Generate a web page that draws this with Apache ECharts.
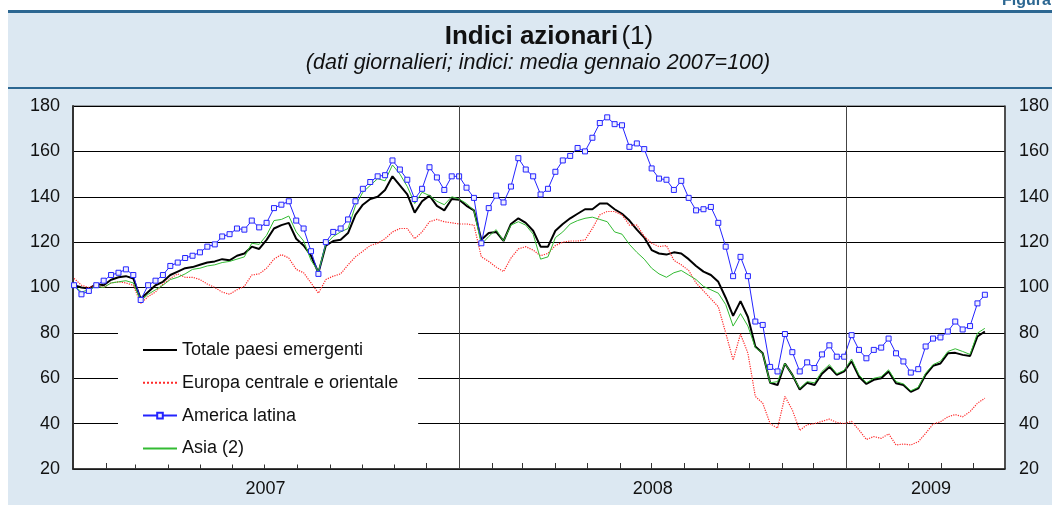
<!DOCTYPE html>
<html>
<head>
<meta charset="utf-8">
<script src="https://cdn.jsdelivr.net/npm/echarts@6/dist/echarts.min.js"></script>
<style>
  html, body { margin: 0; padding: 0; background: #fff; }
  #chart { width: 1052px; height: 505px; }
</style>
</head>
<body>
<div id="chart"></div>
<script>
const FONT = '"Liberation Sans", Arial, Helvetica, sans-serif';

// x axis in days since 1 Jan 2007; weekly observations from 2 Jan 2007
const ORIGIN = Date.UTC(2007, 0, 1);
const DAY = 24 * 3600 * 1000;
const dayOf = t => Math.round((t - ORIGIN) / DAY);

const totale = [
  101, 100, 99.5, 101.5, 101, 103.4, 104.5, 105, 104, 95,
  98, 101, 102.5, 105.5, 107, 108.5, 109, 110, 111, 111.5,
  112.5, 112, 114, 115, 118, 117, 121, 126, 127.5, 128.5,
  121.5, 118.5, 114, 106.5, 118.5, 120.5, 121, 124, 132, 136.5,
  139, 140, 143, 149, 145, 141, 133, 138, 140.5, 136,
  134, 139, 138.7, 136, 134, 121, 124, 124.5, 120.5, 128,
  130.5, 128.5, 125, 118, 118, 125, 128, 130.5, 132.5, 134.5,
  134.5, 137, 137, 134.5, 132.5, 129.5, 125.5, 122, 116.5, 115,
  114.5, 115.5, 115, 112.5, 109.5, 107, 105.5, 102.5, 95.5, 87.5,
  94, 87, 74, 71, 58, 57, 66.5, 61.5, 55, 58,
  57, 62, 65, 61.5, 63, 67.5, 60.7, 57.5, 59.3, 60,
  63, 57.8, 57, 54, 55.5, 61.5, 65.5, 66.5, 71, 71.2,
  70.3, 69.8, 78.4, 80.6
];

const europa = [
  104, 101, 100, 101, 100, 102, 102.5, 102, 101, 93,
  96, 98, 101.5, 104, 106, 104.5, 104.5, 103.5, 101.5, 100,
  98, 97, 99, 100.5, 105.5, 106, 108.5, 112.5, 114.5, 113,
  108, 106.5, 102, 97.5, 103.5, 105, 106, 110, 113.5, 116,
  118.5, 119.5, 121.5, 124.5, 126, 126, 121.5, 124.5, 129, 130,
  129, 128.5, 128, 128, 127.5, 113.5, 111.5, 109, 107, 113,
  117, 118, 116.5, 114, 115, 118.5, 120, 120.5, 120.5, 121,
  126, 132, 133.5, 133.5, 132, 127.5, 127.5, 122.5, 119.5, 118,
  118.5, 112, 110, 107.5, 102, 98.5, 95, 91.5, 80, 68,
  79.5, 71, 52, 49, 40, 38, 52, 46, 37, 39.5,
  40, 41, 42, 40.5, 40, 41, 37.2, 33, 34.3, 33.5,
  35.5, 30.6, 31, 30.6, 32, 35.7, 39.8, 40.8, 43, 44,
  43, 45.3, 49, 51.2
];

const americaLatina = [
  101, 97, 98.5, 101, 103, 105.5, 106.5, 108, 105.5, 94.5,
  101, 103, 105.5, 109.5, 111, 113, 114, 115.5, 118, 119,
  122.5, 123.5, 126, 125.5, 129.5, 126.5, 128.5, 135, 136.5, 138,
  129.5, 126, 116, 106, 120, 124.5, 126, 130, 138, 143.5,
  146.5, 149, 149.5, 156, 152, 147.5, 139, 143.5, 153, 148.5,
  143, 149, 149, 144, 139.5, 119.5, 135, 140.5, 137.5, 144.5,
  157, 152, 149, 141, 143.5, 151, 156, 158, 161.5, 160,
  166, 172.5, 175, 172, 171.5, 162, 163.5, 161, 152.5, 148,
  147.5, 143, 147, 139.5, 134, 134.5, 135.5, 128.5, 118, 105,
  113.5, 105, 85, 83.5, 65, 63, 79.5, 71.5, 63, 67,
  64.5, 70.5, 74.5, 69.5, 69.5, 79, 72.5, 68.8, 72.5, 73.5,
  77.5, 71, 67.4, 62.5, 64, 74, 77.5, 78, 80.6, 85,
  81.5, 83, 93, 96.8
];

const asia = [
  101, 98, 99, 100.5, 100, 102, 102.5, 103, 102, 94,
  97, 99, 101, 103.5, 104.5, 106, 108, 108.5, 109.5, 110,
  111, 111.5, 112.5, 113.5, 119.5, 119, 123, 129.5, 130, 131.5,
  124.5, 120.5, 112, 107, 119, 122.5, 124.5, 126, 136, 142,
  145, 148, 147, 154, 150, 144.5, 137, 142, 140.5, 138,
  136.5, 140, 139, 137, 134, 119, 122.5, 125.5, 120.5, 127.5,
  129, 127.5, 123.5, 112.5, 113.5, 122, 124.5, 128, 129.5, 130.5,
  131, 130, 129, 124.5, 123.5, 119, 115.5, 112.5, 108.5, 106,
  104.5, 106.5, 107.5, 105.5, 103.5, 100.5, 99, 97.5, 92.5, 83,
  88.5, 83, 73.5, 71, 58, 58.5, 66.5, 61.5, 55.5, 58.5,
  58, 63, 66, 62, 63.5, 68.5, 61.5, 58, 60, 60.7,
  63.7, 58.5, 57.5, 54.5, 56, 62.2, 66, 67.5, 71.8, 73,
  71.8, 70.5, 79.9, 82
];

const seriesNames = ['Totale paesi emergenti', 'Europa centrale e orientale', 'America latina', 'Asia (2)'];
const yearLabels = ['2007', '2008', '2009'];

const days = totale.map((v, i) => 1 + i * 7);
const pairs = arr => arr.map((v, i) => [days[i], v]);

// month ticks Feb 2007 .. May 2009
const monthTicks = [];
for (let m = 1; m < 29; m++) {
  monthTicks.push(dayOf(Date.UTC(2007, m, 1)));
}
const labelPos = [dayOf(Date.UTC(2007, 6, 2)), dayOf(Date.UTC(2008, 6, 2)), dayOf(Date.UTC(2009, 2, 22))];
const yearStarts = [dayOf(Date.UTC(2008, 0, 1)), dayOf(Date.UTC(2009, 0, 1))];

const chart = echarts.init(document.getElementById('chart'));

// lines without markers get an invisible marker in the legend
const noMark = { opacity: 0 };

const option = {
  animation: false,
  backgroundColor: '#fff',
  textStyle: { fontFamily: FONT },
  graphic: [
    { type: 'rect', z: -10, shape: { x: 8, y: 12, width: 1044, height: 493 }, style: { fill: '#dce8f2' } },
    { type: 'rect', z: -9, shape: { x: 8, y: 10, width: 1044, height: 3 }, style: { fill: '#2c6792' } },
    { type: 'rect', z: -9, shape: { x: 8, y: 87, width: 1044, height: 2 }, style: { fill: '#2c6792' } },
    {
      type: 'text', x: 1002, y: 1,
      style: { text: 'Figura 1', font: 'bold 16px ' + FONT, fill: '#2c6792', textAlign: 'left', textVerticalAlign: 'middle', align: 'left', verticalAlign: 'middle' }
    },
    {
      type: 'text', x: 549, y: 37,
      style: {
        text: '{b|Indici azionari} {n|(1)}',
        rich: {
          b: { fontFamily: FONT, fontSize: 26, fontWeight: 'bold', fill: '#111' },
          n: { fontFamily: FONT, fontSize: 26, fill: '#111' }
        },
        textAlign: 'center', textVerticalAlign: 'middle', align: 'center', verticalAlign: 'middle'
      }
    },
    {
      type: 'text', x: 538, y: 63,
      style: {
        text: '(dati giornalieri; indici: media gennaio 2007=100)',
        font: 'italic 21.5px ' + FONT, fill: '#111',
        textAlign: 'center', textVerticalAlign: 'middle', align: 'center', verticalAlign: 'middle'
      }
    }
  ],
  grid: {
    left: 73, right: 46, top: 106, bottom: 36,
    show: true, backgroundColor: '#fff', borderColor: '#555', borderWidth: 1
  },
  legend: {
    orient: 'vertical',
    left: 118, top: 318,
    padding: [22, 20, 6, 24],
    backgroundColor: '#fff',
    itemWidth: 34, itemHeight: 7, itemGap: 12.8,
    textStyle: { fontSize: 18, color: '#111', fontFamily: FONT, lineHeight: 20 },
    data: [
      { name: seriesNames[0], itemStyle: noMark },
      { name: seriesNames[1], itemStyle: noMark },
      { name: seriesNames[2] },
      { name: seriesNames[3], itemStyle: noMark }
    ]
  },
  xAxis: {
    type: 'value',
    min: 0,
    max: dayOf(Date.UTC(2009, 4, 31)),
    axisLine: { lineStyle: { color: '#222', width: 1.5 } },
    axisTick: { show: true, inside: true, length: 6, lineStyle: { color: '#333' }, customValues: monthTicks },
    axisLabel: {
      customValues: labelPos,
      formatter: v => yearLabels[new Date(ORIGIN + v * DAY).getUTCFullYear() - 2007],
      fontSize: 18, color: '#111', margin: 11
    },
    splitLine: { show: false }
  },
  yAxis: [
    {
      type: 'value', min: 20, max: 180, interval: 20, position: 'left',
      axisLine: { show: true, lineStyle: { color: '#333', width: 2 } },
      axisTick: { show: false },
      axisLabel: { fontSize: 18, color: '#111', margin: 13 },
      splitLine: { show: true, lineStyle: { color: '#000', width: 1 } }
    },
    {
      type: 'value', min: 20, max: 180, interval: 20, position: 'right',
      axisLine: { show: true, lineStyle: { color: '#333', width: 1.5 } },
      axisTick: { show: false },
      axisLabel: { fontSize: 18, color: '#111', margin: 14 },
      splitLine: { show: false }
    }
  ],
  series: [
    {
      name: seriesNames[0], type: 'line', data: pairs(totale),
      symbol: 'none', lineStyle: { color: '#000', width: 2 }, itemStyle: { color: '#000' },
      markLine: {
        silent: true, symbol: 'none', label: { show: false },
        lineStyle: { color: '#444', width: 1, type: 'solid' },
        data: yearStarts.map(d => ({ xAxis: d }))
      }
    },
    {
      name: seriesNames[1], type: 'line', data: pairs(europa),
      symbol: 'none', lineStyle: { color: '#ff2a2a', width: 1.2, type: 'dotted' }, itemStyle: { color: '#ff2a2a' }
    },
    {
      name: seriesNames[2], type: 'line', data: pairs(americaLatina),
      symbol: 'rect', symbolSize: 5, showAllSymbol: true,
      lineStyle: { color: '#2424ff', width: 1 },
      itemStyle: { color: '#eef', borderColor: '#2424ff', borderWidth: 1 }
    },
    {
      name: seriesNames[3], type: 'line', data: pairs(asia),
      symbol: 'none', lineStyle: { color: '#33bb33', width: 1 }, itemStyle: { color: '#33bb33' }
    }
  ]
};

chart.setOption(option);
</script>
</body>
</html>
